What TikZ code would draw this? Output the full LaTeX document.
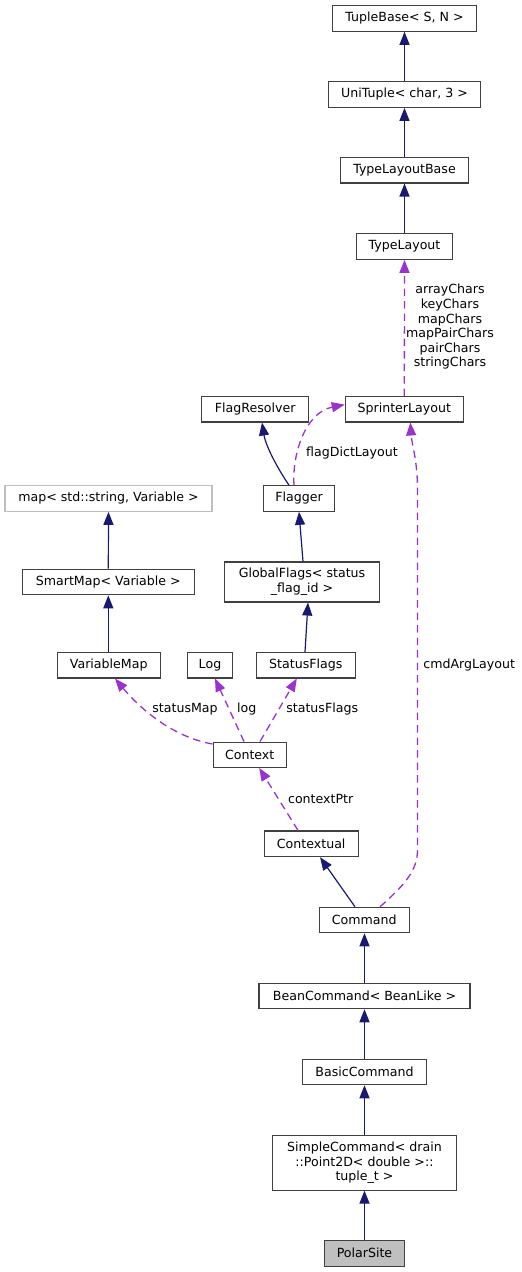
\documentclass[tikz,border=0pt]{standalone}
\usepackage{fontspec}
\setmainfont{DejaVu Sans}
\usetikzlibrary{arrows.meta}
\definecolor{inhblue}{HTML}{191970}
\definecolor{usepurple}{HTML}{9A32CD}
\definecolor{boxborder}{HTML}{404040}
\definecolor{lightborder}{HTML}{BFBFBF}
\definecolor{focusfill}{HTML}{BFBFBF}
\tikzset{
  cls/.style={draw=boxborder, line width=1.1pt, fill=white, inner sep=0pt, align=center,
    font=\fontsize{12.6}{14.7}\selectfont},
  inh/.style={draw=inhblue, line width=1.2pt, -{Triangle[length=13pt,width=10pt]}},
  use/.style={draw=usepurple, line width=1.3pt, dash pattern=on 7.5pt off 5pt,
    -{Triangle[length=13pt,width=10pt]}},
  lbl/.style={inner sep=0pt, align=center, font=\fontsize{12.6}{14.6}\selectfont}
}
\begin{document}
\begin{tikzpicture}[x=1pt,y=-1pt]
\useasboundingbox (0,0) rectangle (522,1272);
% nodes
\node[cls, minimum width=144.5pt, minimum height=25.5pt] (tuple) at (404.5,18.5) {TupleBase< S, N >};
\node[cls, minimum width=152.4pt, minimum height=25.6pt] (uni) at (404.5,94.5) {UniTuple< char, 3 >};
\node[cls, minimum width=128.4pt, minimum height=25.3pt] (tlb) at (404.5,170.3) {TypeLayoutBase};
\node[cls, minimum width=96.4pt, minimum height=25.6pt] (tl) at (404.5,246.5) {TypeLayout};
\node[cls, minimum width=107pt, minimum height=25.3pt] (fr) at (255.2,409.3) {FlagResolver};
\node[cls, minimum width=118pt, minimum height=25.3pt] (sl) at (404.3,409.3) {SprinterLayout};
\node[cls, draw=lightborder, minimum width=207pt, minimum height=25.6pt] (map) at (108.5,498.5) {map< std::string, Variable >};
\node[cls, minimum width=70.6pt, minimum height=25.6pt] (flagger) at (299,498.5) {Flagger};
\node[cls, minimum width=172pt, minimum height=25.7pt] (smart) at (108.3,582) {SmartMap< Variable >};
\node[cls, minimum width=154.6pt, minimum height=40pt] (gf) at (302,582) {GlobalFlags< status\\\_flag\_id >};
\node[cls, minimum width=102.7pt, minimum height=25.3pt] (vm) at (108.7,665.3) {VariableMap};
\node[cls, minimum width=45.4pt, minimum height=25.3pt] (log) at (210,665.3) {Log};
\node[cls, minimum width=99pt, minimum height=25.3pt] (sf) at (305.8,665.3) {StatusFlags};
\node[cls, minimum width=73.3pt, minimum height=25.3pt] (ctx) at (249.7,754.7) {Context};
\node[cls, minimum width=93.7pt, minimum height=25.7pt] (ctxl) at (311.2,843.8) {Contextual};
\node[cls, minimum width=90pt, minimum height=25.4pt] (cmd) at (364.3,920) {Command};
\node[cls, minimum width=211pt, minimum height=25.4pt] (bean) at (364.5,996) {BeanCommand< BeanLike >};
\node[cls, minimum width=124.4pt, minimum height=25.4pt] (basic) at (364.5,1072) {BasicCommand};
\node[cls, minimum width=183.6pt, minimum height=54.7pt] (simple) at (364.5,1162.7) {SimpleCommand< drain\\::Point2D< double >::\\tuple\_t >};
\node[cls, fill=focusfill, minimum width=80.4pt, minimum height=25.7pt] (polar) at (364.5,1253.2) {PolarSite};
% inheritance edges
\draw[inh] (uni.north) -- (tuple.south);
\draw[inh] (tlb.north) -- (uni.south);
\draw[inh] (tl.north) -- (tlb.south);
\draw[inh] ([xshift=-10pt]flagger.north) .. controls +(-9,-13) and +(4,25) .. ([xshift=6.8pt]fr.south);
\draw[inh] ([xshift=1pt]gf.north) -- (flagger.south);
\draw[inh] ([xshift=-0.8pt]sf.north) -- ([xshift=6pt]gf.south);
\draw[inh] (smart.north) -- (map.south);
\draw[inh] ([xshift=-0.4pt]vm.north) -- (smart.south);
\draw[inh] ([xshift=-9.3pt]cmd.north) -- ([xshift=8.8pt]ctxl.south);
\draw[inh] (bean.north) -- ([xshift=0.2pt]cmd.south);
\draw[inh] (basic.north) -- (bean.south);
\draw[inh] (simple.north) -- (basic.south);
\draw[inh] (polar.north) -- (simple.south);
% usage edges
\draw[use] (sl.north) -- (tl.south);
\draw[use] ([xshift=-5pt]flagger.north) .. controls +(-2,-30) and +(-40,8) .. ([yshift=-8.5pt]sl.north west);
\draw[use] ([xshift=15.7pt]cmd.north) .. controls +(25,-22) and +(0,20) .. (417.5,850) -- (417.5,490) .. controls +(0,-30) and +(1.5,22) .. ([xshift=6pt]sl.south);
\draw[use] ([yshift=-2.5pt]ctx.north west) .. controls +(-40,-7) and +(25,30) .. ([xshift=6.3pt]vm.south);
\draw[use] ([xshift=-5.7pt]ctx.north) -- ([xshift=5pt]log.south);
\draw[use] ([xshift=10.3pt]ctx.north) -- ([xshift=-9pt]sf.south);
\draw[use] ([xshift=-13.2pt]ctxl.north) -- ([xshift=9.5pt]ctx.south);
% labels
\node[lbl] (lchars) at (450,327) {arrayChars\\keyChars\\mapChars\\mapPairChars\\pairChars\\stringChars};
\node[lbl] (lflag) at (352,452.7) {flagDictLayout};
\node[lbl] (lcmd) at (469.2,664.7) {cmdArgLayout};
\node[lbl] (lsmap) at (185,709) {statusMap};
\node[lbl] (llog) at (246.8,709) {log};
\node[lbl] (lsf) at (322.2,709) {statusFlags};
\node[lbl] (lctx) at (320.7,799) {contextPtr};
\end{tikzpicture}
\end{document}
